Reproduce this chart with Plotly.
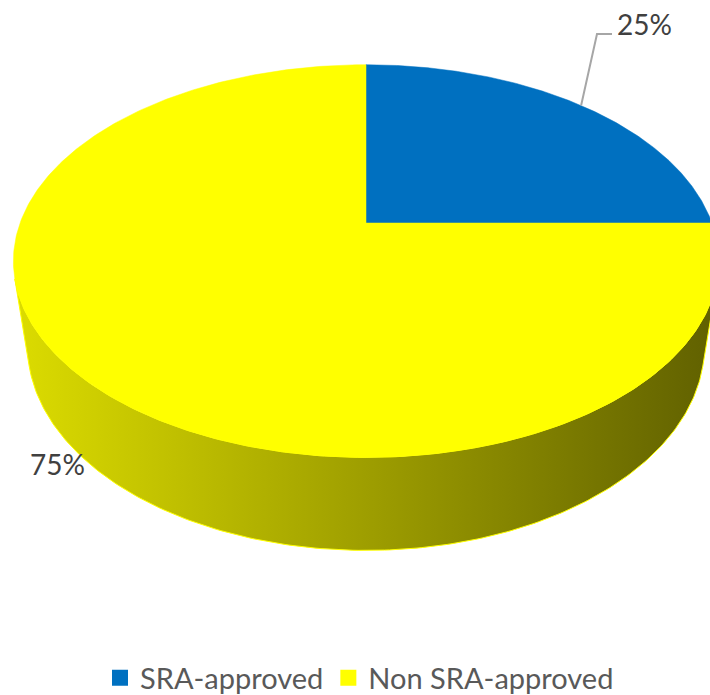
import numpy as np
import plotly.graph_objects as go

# ---- data ----
labels = ["SRA-approved", "Non SRA-approved"]
values = [25, 75]
colors = ["#0070C0", "#FFFF00"]
side_dark = ["#003a66", "#606000"]
side_light = ["#0060a8", "#dcdc00"]

W, H = 710, 695
CX, CY = 366, 223          # pie centre on the page
FX, FY = 1484.0, 1461.0    # focal scale
D = 4.29                   # camera distance
ELEV = np.radians(33.7)    # view elevation
THICK = 0.311              # pie thickness (relative to radius)


def proj(t, r=1.0, z=0.0):
    s, c = np.sin(ELEV), np.cos(ELEV)
    X = r * np.cos(t)
    Y = r * np.sin(t)
    depth = D + Y * c - z * s
    sx = CX + FX * X / depth
    sy = CY - FY * (Y * s + z * c) / depth
    return sx, sy


total = float(sum(values))
start = np.pi / 2
bounds = []
acc = 0.0
for v in values:
    t0 = start - 2 * np.pi * acc / total
    t1 = start - 2 * np.pi * (acc + v) / total
    bounds.append((t1, t0))
    acc += v

a = np.arcsin(1.0 / (D * np.cos(ELEV)))
vis_lo, vis_hi = -np.pi + a, -a

fig = go.Figure()

# side walls (front, visible part)
for i, (t1, t0) in enumerate(bounds):
    for k in (-1, 0, 1):
        lo = max(t1, vis_lo + 2 * np.pi * k)
        hi = min(t0, vis_hi + 2 * np.pi * k)
        if hi <= lo:
            continue
        tt = np.linspace(lo, hi, 200)
        xt, yt = proj(tt)
        xb, yb = proj(tt[::-1], z=-THICK)
        xs = np.concatenate([xt, xb, xt[:1]])
        ys = np.concatenate([yt, yb, yt[:1]])
        fig.add_trace(go.Scatter(
            x=xs, y=ys, mode="lines", fill="toself",
            line=dict(color=colors[i], width=1),
            fillgradient=dict(type="horizontal",
                              colorscale=[[0, side_light[i]], [1, side_dark[i]]],
                              start=float(xs.min()), stop=float(xs.max())),
            hoverinfo="skip", showlegend=False))

# top faces
for i, (t1, t0) in enumerate(bounds):
    tt = np.linspace(t0, t1, 400)
    x, y = proj(tt)
    xs = np.concatenate([[CX], x, [CX]])
    ys = np.concatenate([[CY], y, [CY]])
    fig.add_trace(go.Scatter(
        x=xs, y=ys, mode="lines", fill="toself",
        fillcolor=colors[i], line=dict(color=colors[i], width=0.5),
        hoverinfo="skip", showlegend=False))

# leader line for first slice label
tm = (bounds[0][0] + bounds[0][1]) / 2
lx, ly = proj(tm)
fig.add_trace(go.Scatter(
    x=[float(lx), 597, 612], y=[float(ly), 34, 34], mode="lines",
    line=dict(color="#A6A6A6", width=2), hoverinfo="skip", showlegend=False))

# legend entries
for lab, col in zip(labels, colors):
    fig.add_trace(go.Scatter(
        x=[None], y=[None], mode="markers", name=lab,
        marker=dict(symbol="square", size=22, color=col)))

font_fam = "Lato, Liberation Sans, sans-serif"
pct = [f"{round(100 * v / total)}%" for v in values]
fig.add_annotation(x=615, y=24, text=pct[0], showarrow=False, xanchor="left",
                   yanchor="middle", font=dict(size=28, color="#404040", family=font_fam))
fig.add_annotation(x=28, y=464, text=pct[1], showarrow=False, xanchor="left",
                   yanchor="middle", font=dict(size=28, color="#404040", family=font_fam))

fig.update_layout(
    width=W, height=H, margin=dict(l=0, r=0, t=0, b=0, autoexpand=False),
    paper_bgcolor="white", plot_bgcolor="white",
    xaxis=dict(range=[0, W], visible=False, fixedrange=True),
    yaxis=dict(range=[H, 0], visible=False, fixedrange=True),
    showlegend=True,
    legend=dict(orientation="h", x=100 / W, xanchor="left", y=1 - 678 / H,
                yanchor="middle", font=dict(size=29, color="#595959", family=font_fam),
                itemwidth=30, tracegroupgap=0,
                bgcolor="rgba(0,0,0,0)"),
)

fig.write_html("out.html", config={"displayModeBar": False},
               post_script="document.body.style.margin='0';")
